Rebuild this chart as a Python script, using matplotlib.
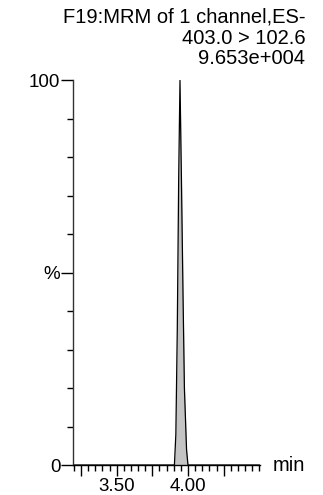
import numpy as np
import matplotlib
matplotlib.use("Agg")
import matplotlib.pyplot as plt
from matplotlib.ticker import MultipleLocator, FixedLocator

plt.rcParams['font.family'] = ['Liberation Sans', 'DejaVu Sans']

# хроматограмма MRM, значения
time_min = [3.20, 3.905, 3.915, 3.925, 3.935, 3.944, 3.955, 3.965, 3.975, 3.99, 4.00, 4.50]
intensity_pct = [0, 0, 8, 35, 75, 100, 72, 45, 20, 4, 0, 0]

header_lines = ["F19:MRM of 1 channel,ES-", "403.0 > 102.6", "9.653e+004"]
x_major = [3.25, 3.50, 3.75, 4.00, 4.25]
x_labels = ["", "3.50", "", "4.00", ""]

fig = plt.figure(figsize=(3.23, 4.95), dpi=100)
ax = fig.add_axes([0.226, 0.0606, 0.579, 0.777])

ax.fill_between(time_min, intensity_pct, 0, color="#c4c4c4", lw=0)
ax.plot(time_min, intensity_pct, color="black", lw=0.9)

ax.set_xlim(3.194, 4.505)
ax.set_ylim(0, 100)

for s in ["top", "right"]:
    ax.spines[s].set_visible(False)
ax.spines["left"].set_color("#333333")
ax.spines["left"].set_linewidth(1.0)
ax.spines["bottom"].set_linewidth(1.0)

# ось Y: метки 0, %, 100
ax.yaxis.set_major_locator(FixedLocator([0, 50, 100]))
ax.set_yticklabels(["0", "%", "100"])
ax.yaxis.set_minor_locator(MultipleLocator(10))
ax.tick_params(axis="y", which="major", length=8.5, width=1.0, pad=0.5, labelsize=13.5)
ax.tick_params(axis="y", which="minor", length=4, width=1.0)

# ось X
ax.xaxis.set_major_locator(FixedLocator(x_major))
ax.set_xticklabels(x_labels)
ax.xaxis.set_minor_locator(MultipleLocator(0.05))
ax.tick_params(axis="x", which="major", length=8, width=1.0, pad=1, labelsize=13.5)
ax.tick_params(axis="x", which="minor", length=4, width=1.0)

fig.text(0.945, 0.0606, "min", ha="right", va="center", fontsize=14.5)

y0 = 1 - 17 / 495
for i, line in enumerate(header_lines):
    fig.text(0.945, y0 - i * 21 / 495, line, ha="right", va="center", fontsize=14.5)

plt.savefig("out.png", dpi=100)
